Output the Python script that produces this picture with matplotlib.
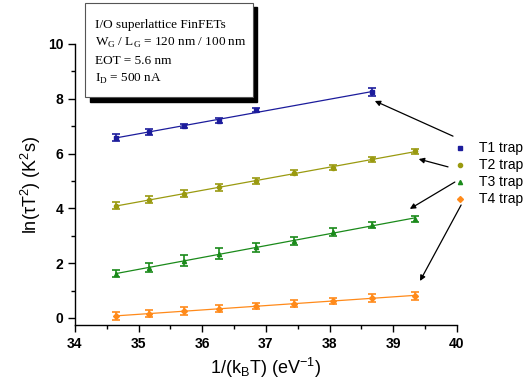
import numpy as np
import matplotlib
matplotlib.use("Agg")
import matplotlib.pyplot as plt

x_all = [34.64, 35.17, 35.72, 36.27, 36.84, 37.44, 38.05, 38.67, 39.34]
x_t1 = [34.64, 35.17, 35.72, 36.27, 36.84, 38.67]
t1 = [6.58, 6.78, 7.01, 7.20, 7.59, 8.24]
t1_err = [0.13, 0.10, 0.08, 0.09, 0.08, 0.15]
t2 = [4.09, 4.31, 4.54, 4.77, 4.99, 5.30, 5.49, 5.79, 6.08]
t2_err = [0.13, 0.13, 0.12, 0.12, 0.11, 0.09, 0.10, 0.10, 0.09]
t3 = [1.61, 1.84, 2.08, 2.34, 2.58, 2.81, 3.13, 3.39, 3.61]
t3_err = [0.13, 0.18, 0.20, 0.20, 0.16, 0.15, 0.14, 0.12, 0.10]
t4 = [0.07, 0.15, 0.26, 0.34, 0.43, 0.52, 0.62, 0.73, 0.81]
t4_err = [0.15, 0.13, 0.15, 0.13, 0.10, 0.13, 0.12, 0.13, 0.15]
labels = ["T1 trap", "T2 trap", "T3 trap", "T4 trap"]
colors = ["#1c1c9c", "#9a9a10", "#1a8a1a", "#ff8a1a"]
markers = ["s", "o", "^", "D"]

fig = plt.figure(figsize=(5.24, 3.89), dpi=100)
ax = fig.add_axes([0.143, 0.165, 0.729, 0.722])

series = [(x_t1, t1, t1_err), (x_all, t2, t2_err), (x_all, t3, t3_err), (x_all, t4, t4_err)]
for (xs, ys, es), c, m in zip(series, colors, markers):
    xs = np.array(xs); ys = np.array(ys)
    p = np.polyfit(xs, ys, 1)
    ax.plot(xs, np.polyval(p, xs), color=c, lw=0.9, zorder=2)
    ax.errorbar(xs, ys, yerr=es, fmt=m, color=c, ms=3, capsize=3, elinewidth=1.2,
                capthick=1.2, zorder=3)

ax.set_xlim(34, 40)
ax.set_ylim(-0.25, 10)
ax.set_xticks(np.arange(34, 40.1, 1))
ax.set_xticks(np.arange(34.5, 40, 1), minor=True)
ax.set_yticks(np.arange(0, 10.1, 2))
ax.set_yticks(np.arange(1, 10, 2), minor=True)
for s in ["top", "right"]:
    ax.spines[s].set_visible(False)
for s in ["left", "bottom"]:
    ax.spines[s].set_linewidth(1.0)
ax.tick_params(which="major", direction="out", length=5, width=1, labelsize=10)
ax.tick_params(which="minor", direction="out", length=3, width=1)
for lab in ax.get_xticklabels() + ax.get_yticklabels():
    lab.set_fontweight("bold")
    lab.set_family("Liberation Sans")
ax.set_xlabel(r"1/(k$_\mathregular{B}$T) (eV$^\mathregular{-1}$)", fontsize=13,
              family="Liberation Sans", labelpad=4)
ax.set_ylabel(r"ln($\mathregular{\tau}$T$^\mathregular{2}$) (K$^\mathregular{2}$s)",
              fontsize=13, family="Liberation Sans", labelpad=3)

# legend (outside the axes, right side)
leg_y = [0.620, 0.577, 0.533, 0.488]
for lab, c, m, yy in zip(labels, colors, markers, leg_y):
    fig.lines.append(plt.Line2D([0.878], [yy], marker=m, color=c, ms=3, ls="none",
                                transform=fig.transFigure))
    fig.text(0.915, yy, lab, family="Liberation Sans", fontsize=10,
             va="center", ha="left")

# arrows from legend markers to curve ends
arrows = [((0.8645, 0.650), (38.71, 7.92)),
          ((0.855, 0.571), (39.40, 5.80)),
          ((0.868, 0.532), (39.26, 3.98)),
          ((0.880, 0.473), (39.42, 1.35))]
for (fx, fy), (px, py) in arrows:
    ax.annotate("", xy=(px, py), xycoords="data", xytext=(fx, fy),
                textcoords="figure fraction",
                arrowprops=dict(arrowstyle="-|>", color="black", lw=0.9,
                                mutation_scale=8, shrinkA=0, shrinkB=0),
                annotation_clip=False)

# info box with shadow
bx, by, bw, bh = 0.163, 0.750, 0.32, 0.243
shadow = plt.Rectangle((bx + 0.008, by - 0.012), bw, bh, transform=fig.transFigure,
                       facecolor="black", edgecolor="black", zorder=5)
box = plt.Rectangle((bx, by), bw, bh, transform=fig.transFigure,
                    facecolor="white", edgecolor="#555555", lw=0.8, zorder=6)
fig.patches.extend([shadow, box])
txt = ("I/O superlattice FinFETs\n"
       r"W$_\mathregular{G}$ / L$_\mathregular{G}$ = 120 nm / 100 nm" "\n"
       "EOT = 5.6 nm\n"
       r"I$_\mathregular{D}$ = 500 nA")
fig.text(bx + 0.018, by + bh - 0.042, txt, family="Liberation Serif", fontsize=9.5,
         va="top", ha="left", linespacing=1.5, zorder=7)

fig.savefig("out.png", dpi=100)
